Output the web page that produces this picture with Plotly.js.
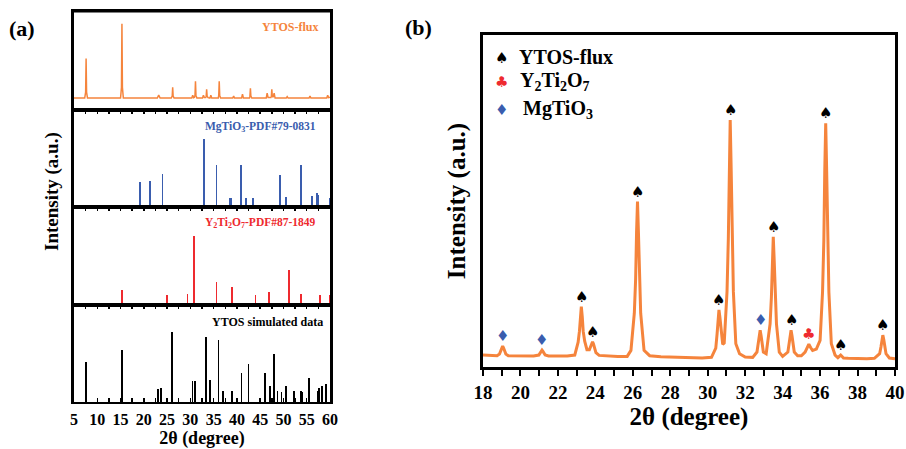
<!DOCTYPE html>
<html>
<head>
<meta charset="utf-8">
<script src="https://cdn.plot.ly/plotly-3.0.1.min.js"></script>
<style>html,body{margin:0;padding:0;background:#fff;}#chart{width:906px;height:449px;}</style>
</head>
<body>
<div id="chart"></div>
<script>
// ---------- Panel (a) data ----------
const fluxAX = [5.0, 7.3,7.5,7.6,7.7,7.9, 15.0,15.2,15.3,15.4,15.6, 22.9,23.2,23.5, 25.9,26.1,26.2,26.3,26.5,
  30.3,30.5,30.7,30.9,31.0,31.1,31.2,31.4, 32.6,32.8,33.0,33.3,33.4,33.5,33.6,33.8,34.2,34.4,34.6,
  36.0,36.1,36.2,36.3,36.5, 39.1,39.3,39.5, 41.0,41.2,41.4, 42.7,42.8,42.9,43.0,43.2,
  46.3,46.5,46.7,47.3,47.4,47.5,47.6,47.8,48.0,48.2, 50.6,50.8,51.0, 55.5,55.7,55.9, 59.3,59.5,59.7,60.0];
const fluxAY = [12, 12,18,52,18,12, 12,23,87,23,12, 12,15,12, 12,14,23,14,12,
  12,15,12.5,13,15,29,15,12, 12,15,12.5,12.5,14,21,14,12.5,12,15,12,
  12,15,29,15,12, 12,14,12, 12,16,12, 12,14,22,14,12,
  12,17,12.5,12.5,14,21,14,13,17,12, 12,13.5,12, 12,14,12, 12,15,12.5,13];

const mgX = [19.2,21.4,24.0,32.9,35.6,38.5,38.8,40.8,41.9,43.5,49.3,50.6,53.8,56.1,57.2,57.5,60.0];
const mgI = [26,27,34,70,43,9,9,43,9,9.5,33,10,43,11,14,12,9];

const ytX = [15.3,24.9,29.4,30.7,35.6,38.9,44.0,46.85,51.2,53.75,57.85,60.0];
const ytI = [15,10,11,70,23,18,10,13,36,11,10,10];

const simX = [7.6,15.3,23.0,23.7,26.1,30.45,31.0,33.4,34.3,36.05,37.0,39.0,41.0,42.5,46.1,47.1,47.9,48.7,49.6,50.6,52.3,53.75,54.1,55.5,57.3,57.7,58.2,59.2];
const simI = [41.5,54,13,14,72,22,22,67,22.5,64,11,11,30,39,30,17,49,11,10,17,11,11,10,25,11,14,16,19];

const tickValsA = [5,10,15,20,25,30,35,40,45,50,55,60];
const tickTextA = ['5','10','15','20','25','30','35','40','45','50','55','60'];

// ---------- Panel (b) data ----------
const fluxBX = [18.0,18.4,18.75, 18.88,18.95,19.0,19.05,19.1,19.15,19.22,19.35, 19.8,20.3,20.7,
  20.98,21.05,21.1,21.15,21.2,21.25,21.32,21.5, 22.0,22.5,22.9, 23.08,23.15,23.2,23.25,23.3,23.35,23.43,
  23.55,23.68,23.75,23.8,23.85,23.9,23.95,24.03,24.2, 24.6,25.2,25.7,25.9,
  26.08,26.15,26.2,26.25,26.3,26.35,26.42,26.6,26.9, 27.5,28.1,28.5,29.1,29.7,30.2,
  30.43,30.5,30.55,30.6,30.65,30.72,30.8,30.88, 31.03,31.1,31.15,31.2,31.25,31.3,31.37,31.5,31.7,
  32.0,32.4, 32.63,32.7,32.75,32.8,32.85,32.9,32.97,33.12, 33.33,33.4,33.45,33.5,33.55,33.6,33.67,33.82,34.0,
  34.28,34.35,34.4,34.45,34.5,34.55,34.62,34.8,35.0, 35.2,35.3,35.4,35.5,35.6,35.8,36.0,
  36.13,36.2,36.25,36.3,36.35,36.4,36.47,36.6,36.8, 36.95,37.05,37.1,37.15,37.25, 37.5,38.0,38.5,38.9,
  39.18,39.25,39.3,39.35,39.4,39.45,39.52,39.7,40.0];
const fluxBY = [36,35,34, 39,48,57,63,57,48,39,34, 34,34,33,
  36,42,47,51,47,42,36,33, 33,33,36, 75,108,152,182,152,108,78,
  52,52,60,69,76,69,58,43,35, 33,32,32,50,
  162,265,405,498,405,265,162,50,34, 31,30,28,27,27,29,
  57,100,143,172,150,100,68,72, 227,386,601,744,601,386,227,70,40,
  30,29, 45,70,94,111,94,70,45,40, 130,210,320,392,320,210,130,45,32,
  45,70,94,111,94,70,45,34,34, 45,58,69,58,50,54,80,
  225,381,593,734,593,381,225,70,36, 28,33,36,33,27, 26,25,25,26,
  40,60,83,96,83,60,40,27,25];

const peakX = [19.05,21.15,23.25,23.85,26.25,30.6,31.2,32.8,33.5,34.45,35.4,36.3,37.1,39.35];
const peakY = [63,51,182,76,498,172,744,111,392,111,69,734,36,96];
const peakPhase = ['M','M','Y','Y','Y','Y','Y','M','Y','Y','T','Y','Y','Y'];

const legendNames = ['YTOS-flux','Y<sub>2</sub>Ti<sub>2</sub>O<sub>7</sub>','MgTiO<sub>3</sub>'];
const legendPhase = ['Y','T','M'];

// ---------- styles ----------
const ORANGE = '#F5843C', BLUE = '#3A5DAE', RED = '#EE2A2F';
const SERIF = 'Liberation Serif, Times New Roman, serif';
const SYM = 'DejaVu Sans, sans-serif';
const glyph = {Y:{t:'\u2660', c:'#000'}, T:{t:'\u2663', c:RED}, M:{t:'\u2666', c:BLUE}};
const W = 906, H = 449;
const px = v => v / W, py = v => 1 - v / H;

const xA = [px(74), px(330)];
const dom = {
  y1:[py(110), py(11)], y2:[py(207), py(110)], y3:[py(305), py(207)], y4:[py(402), py(305)]
};

const traces = [
  {type:'scatter', mode:'lines', x:fluxAX, y:fluxAY, xaxis:'x', yaxis:'y',
   line:{color:ORANGE, width:1.5}, hoverinfo:'skip'},
  {type:'bar', x:mgX, y:mgI, xaxis:'x2', yaxis:'y2', width:0.38, marker:{color:BLUE, line:{width:0}}},
  {type:'bar', x:ytX, y:ytI, xaxis:'x3', yaxis:'y3', width:0.38, marker:{color:RED, line:{width:0}}},
  {type:'bar', x:simX, y:simI, xaxis:'x4', yaxis:'y4', width:0.38, marker:{color:'#000', line:{width:0}}},
  {type:'scatter', mode:'lines', x:fluxBX, y:fluxBY, xaxis:'x5', yaxis:'y5',
   line:{color:ORANGE, width:3}, hoverinfo:'skip'}
];

const baseXA = {domain:xA, range:[5,60], showline:true, linecolor:'#000', linewidth:2, mirror:true,
  showgrid:false, zeroline:false, fixedrange:true};
const baseYA = {range:[0,100], showline:true, linecolor:'#000', linewidth:3, mirror:true,
  showgrid:false, zeroline:false, ticks:'', showticklabels:false, fixedrange:true};
const tickStyle = {ticks:'inside', tickmode:'linear', tick0:5, dtick:2.5, ticklen:4, tickwidth:1.5,
  tickcolor:'#000', showticklabels:false};

const layout = {
  width:W, height:H, margin:{l:0,r:0,t:0,b:0}, paper_bgcolor:'#fff', plot_bgcolor:'#fff',
  showlegend:false, bargap:0,
  xaxis:Object.assign({}, baseXA, {anchor:'y', ticks:'', showticklabels:false}),
  xaxis2:Object.assign({}, baseXA, tickStyle, {anchor:'y2', side:'top'}),
  xaxis3:Object.assign({}, baseXA, tickStyle, {anchor:'y3', side:'top'}),
  xaxis4:Object.assign({}, baseXA, {anchor:'y4', side:'bottom', ticks:'inside', mirror:'ticks',
     tickmode:'array', tickvals:tickValsA, ticktext:tickTextA, ticklen:4, tickwidth:1.5, tickcolor:'#000',
     minor:{tickmode:'linear', tick0:5, dtick:2.5, ticks:'inside', ticklen:4, tickwidth:1.5, tickcolor:'#000', showgrid:false},
     ticklabelstandoff:2,
     tickfont:{family:SERIF, size:16, color:'#000', weight:'bold'},
     title:{text:'2\u03b8 (degree)', font:{family:SERIF, size:18, color:'#000', weight:'bold'}, standoff:4}}),
  yaxis:Object.assign({}, baseYA, {domain:dom.y1, anchor:'x'}),
  yaxis2:Object.assign({}, baseYA, {domain:dom.y2, anchor:'x2'}),
  yaxis3:Object.assign({}, baseYA, {domain:dom.y3, anchor:'x3'}),
  yaxis4:Object.assign({}, baseYA, {domain:dom.y4, anchor:'x4'}),
  xaxis5:{domain:[px(483), px(895)], anchor:'y5', range:[18,40], showline:true, linecolor:'#000', linewidth:3,
     mirror:true, showgrid:false, zeroline:false, ticks:'outside', tick0:18, dtick:2, ticklen:6, tickwidth:2,
     tickcolor:'#000', minor:{dtick:1, ticks:'outside', ticklen:6, tickwidth:2, tickcolor:'#000', showgrid:false},
     tickfont:{family:SERIF, size:19, color:'#000', weight:'bold'}, fixedrange:true,
     title:{text:'2\u03b8 (degree)', font:{family:SERIF, size:25, color:'#000', weight:'bold'}, standoff:5}},
  yaxis5:{domain:[py(367), py(35)], anchor:'x5', range:[0,1000], showline:true, linecolor:'#000', linewidth:3,
     mirror:true, showgrid:false, zeroline:false, ticks:'', showticklabels:false, fixedrange:true,
     title:{text:'Intensity (a.u.)', font:{family:SERIF, size:25, color:'#000', weight:'bold'}, standoff:8}},
  shapes:[
    {type:'line', xref:'paper', yref:'paper', x0:xA[0], x1:xA[1], y0:py(11), y1:py(11), line:{color:'#000', width:3}}
  ],
  annotations:[]
};

const ann = layout.annotations;
function paperText(text, x, y, size, color, xanchor, extra){
  ann.push(Object.assign({text:text, xref:'paper', yref:'paper', x:px(x), y:py(y), xanchor:xanchor||'center',
    yanchor:'middle', showarrow:false, font:{family:SERIF, size:size, color:color, weight:'bold'}}, extra||{}));
}
paperText('(a)', 22, 28, 22, '#000');
paperText('(b)', 418, 27, 22, '#000');
paperText('Intensity (a.u.)', 52, 192, 19, '#000', 'center', {textangle:-90});
paperText('YTOS-flux', 320, 27, 12, ORANGE, 'right');
paperText('MgTiO<sub>3</sub>-PDF#79-0831', 318, 127, 11.5, BLUE, 'right');
paperText('Y<sub>2</sub>Ti<sub>2</sub>O<sub>7</sub>-PDF#87-1849', 318, 223, 11.5, RED, 'right');
paperText('YTOS simulated data', 325, 322, 12, '#000', 'right');

// legend of panel (b)
const legY = [57, 81, 109];
const legTextX = [517, 518, 521];
legendPhase.forEach((ph, i) => {
  const g = glyph[ph];
  ann.push({text:g.t, xref:'paper', yref:'paper', x:px(501), y:py(legY[i]+1), xanchor:'center', yanchor:'middle',
    showarrow:false, font:{family:SYM, size:15, color:g.c}});
  paperText(legendNames[i], legTextX[i], legY[i], 20, '#000', 'left');
});

// peak markers on panel (b)
peakX.forEach((x, i) => {
  const g = glyph[peakPhase[i]];
  ann.push({text:g.t, xref:'x5', yref:'y5', x:x, y:peakY[i], xanchor:'center', yanchor:'middle',
    yshift:10, showarrow:false, font:{family:SYM, size:15, color:g.c}});
});

Plotly.newPlot('chart', traces, layout, {staticPlot:true, displayModeBar:false});
</script>
</body>
</html>
